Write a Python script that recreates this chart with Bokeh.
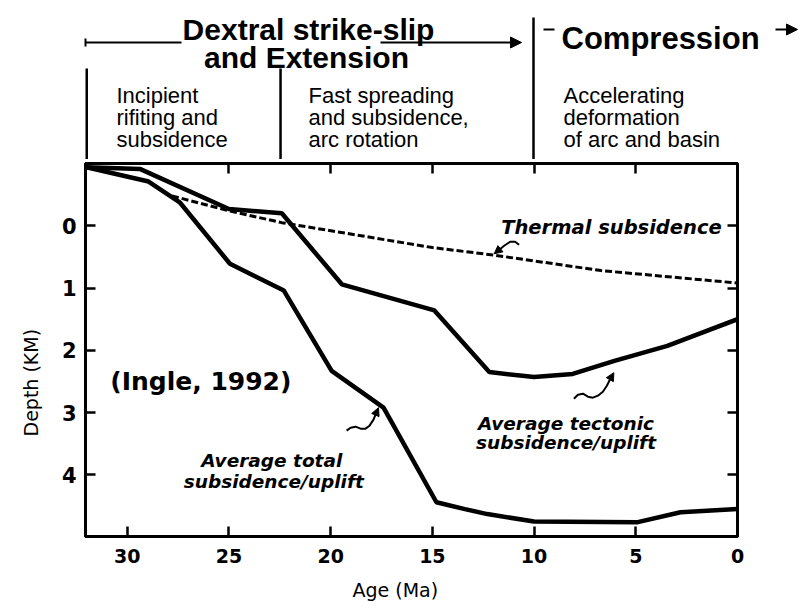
from bokeh.plotting import figure
from bokeh.models import (Range1d, LinearAxis, FixedTicker, Label, Arrow,
                          NormalHead, TeeHead, Title)
from bokeh.core.properties import value
from bokeh.embed import file_html
from bokeh.resources import INLINE

# ---------------- data ----------------
tectonic_age = [32.0, 29.35, 25.0, 22.4, 19.45, 14.9, 12.2, 10.0, 8.1, 6.05, 3.45, 0.0]
tectonic_depth = [-0.94, -0.91, -0.27, -0.20, 0.94, 1.36, 2.35, 2.43, 2.38, 2.17, 1.93, 1.50]

total_age = [32.0, 28.95, 27.4, 24.95, 22.3, 19.95, 17.4, 14.8, 13.4, 12.3, 10.0, 4.9, 2.8, 0.0]
total_depth = [-0.94, -0.71, -0.37, 0.61, 1.04, 2.33, 2.92, 4.44, 4.55, 4.63, 4.75, 4.76, 4.60, 4.55]

thermal_age = [27.8, 25.0, 22.4, 15.0, 12.0, 6.7, 0.0]
thermal_depth = [-0.48, -0.24, -0.05, 0.35, 0.47, 0.72, 0.92]

age_ticks = [30, 25, 20, 15, 10, 5, 0]
depth_ticks = [0, 1, 2, 3, 4]
phase_bounds = [31.9, 22.4, 10.0]

# ---------------- layout helpers (reference pixel -> data) ----------------
def X(xr):
    return (737.0 - xr) / 20.4

def Y(yr):
    return (yr - 225.0) / 62.3

def age_px(a):
    return 737.0 - 20.4 * a

W = 800
HEAD = 159
MAIN = 612 - HEAD

# ====================== header figure (pixel coordinates) ======================
h = figure(width=W, height=HEAD, output_backend="svg", toolbar_location=None,
           x_range=Range1d(0, W), y_range=Range1d(HEAD, 0),
           min_border=0, min_border_left=0, min_border_right=0,
           min_border_top=0, min_border_bottom=0,
           x_axis_location=None, y_axis_location=None)
h.outline_line_color = None
h.xgrid.visible = False
h.ygrid.visible = False
h.background_fill_color = "white"
h.border_fill_color = "white"

def htext(x, y, t, size, style="normal", align="left", font="Liberation Sans"):
    h.text(x=[x], y=[y], text=[t], text_align=align,
           text_baseline="alphabetic", text_font=value(font),
           text_font_size=size, text_font_style=style, text_color="black")

htext(308, 29, "Dextral strike-slip", "30px", "bold", "center")
htext(306, 57, "and Extension", "30px", "bold", "center")
htext(561, 38, "Compression", "31px", "bold", "left")

sub_rows = [95, 117, 139]
for col_x, lines in [(116, ["Incipient", "rifiting and", "subsidence"]),
                     (308, ["Fast spreading", "and subsidence,", "arc rotation"]),
                     (563, ["Accelerating", "deformation", "of arc and basin"])]:
    for r, t in zip(sub_rows, lines):
        htext(col_x, r, t, "22px")

def hseg(x0, y0, x1, y1, w=2.0, start=None, end=None):
    h.add_layout(Arrow(x_start=x0, y_start=y0, x_end=x1, y_end=y1,
                       line_color="black", line_width=w, start=start, end=end))

hseg(85, 42, 181, 42, 2, start=TeeHead(size=8, line_color="black", line_width=2))
hseg(380, 42, 521, 42, 2,
     end=NormalHead(size=11, fill_color="black", line_color="black", line_width=1))
hseg(543, 29, 554, 29, 2)
hseg(775, 29, 797, 29, 2,
     end=NormalHead(size=11, fill_color="black", line_color="black", line_width=1))

hseg(age_px(phase_bounds[0]), 68, age_px(phase_bounds[0]), HEAD, 2.5)
hseg(age_px(phase_bounds[1]), 68, age_px(phase_bounds[1]), HEAD, 2.5)
hseg(age_px(phase_bounds[2]), 17, age_px(phase_bounds[2]), HEAD, 2.5)

# ====================== main figure ======================
p = figure(width=W, height=MAIN, output_backend="svg", toolbar_location=None,
           x_range=Range1d(32.05, 0), y_range=Range1d(4.99, -1.0),
           min_border_left=83, min_border_right=63, min_border_top=4,
           min_border_bottom=76, x_axis_location=None, y_axis_location=None)
p.background_fill_color = "white"
p.border_fill_color = "white"
p.outline_line_color = "black"
p.outline_line_width = 3
p.xgrid.visible = False
p.ygrid.visible = False

def style_axis(ax, labels=True, size="19px"):
    ax.axis_line_color = "black"
    ax.axis_line_width = 3
    ax.major_tick_in = 10
    ax.major_tick_out = 0
    ax.major_tick_line_width = 2.5
    ax.minor_tick_line_color = None
    ax.major_label_text_font = "DejaVu Sans"
    ax.major_label_text_font_style = "bold"
    ax.major_label_text_font_size = size
    ax.major_label_text_color = "black"
    if not labels:
        ax.major_label_text_font_size = "0px"
        ax.major_label_text_color = None
        ax.major_label_standoff = 0

xb = LinearAxis(ticker=FixedTicker(ticks=age_ticks))
style_axis(xb, size="19px")
xb.major_label_standoff = 12
p.add_layout(xb, "below")

xt = LinearAxis(ticker=FixedTicker(ticks=age_ticks[1:-1]))
style_axis(xt, labels=False)
p.add_layout(xt, "above")

yl = LinearAxis(ticker=FixedTicker(ticks=depth_ticks))
style_axis(yl, size="21px")
yl.major_label_standoff = 9
p.add_layout(yl, "left")

yr_ = LinearAxis(ticker=FixedTicker(ticks=depth_ticks))
style_axis(yr_, labels=False)
p.add_layout(yr_, "right")

# axis titles placed as side titles with an offset along the axis
p.add_layout(Title(text="Age  (Ma)", align="left", offset=267,
                   text_font="DejaVu Sans", text_font_size="19px",
                   text_font_style="normal", text_color="black", standoff=22), "below")
p.add_layout(Title(text="Depth  (KM)", align="left", offset=100, vertical_align="bottom",
                   text_font="DejaVu Sans", text_font_size="19px",
                   text_font_style="normal", text_color="black", standoff=34), "left")

# ---------------- curves ----------------
p.line(thermal_age, thermal_depth, line_color="black", line_width=3, line_dash="7 3")
p.line(tectonic_age, tectonic_depth, line_color="black", line_width=4.5)
p.line(total_age, total_depth, line_color="black", line_width=4.5)

# ---------------- in-plot annotations ----------------
def lab(xr, yr, t, size, style="normal", align="left", font="DejaVu Sans"):
    p.add_layout(Label(x=X(xr), y=Y(yr), text=t, text_align=align,
                       text_baseline="alphabetic", text_font=font,
                       text_font_size=size, text_font_style=style, text_color="black"))

lab(500, 226.7, "Thermal subsidence", "19.5px", "bold italic", "left")
lab(565, 422.7, "Average tectonic", "18.5px", "bold italic", "center")
lab(565, 442.3, "subsidence/uplift", "18.5px", "bold italic", "center")
lab(270, 460.0, "Average total", "18.5px", "bold italic", "center")
lab(272, 480.7, "subsidence/uplift", "18.5px", "bold italic", "center")
lab(108, 381.0, "(Ingle, 1992)", "25px", "bold", "left")

def squiggle(pts, tip_from, tip_to):
    xs = [X(a) for a, b in pts]
    ys = [Y(b) for a, b in pts]
    p.line(xs, ys, line_color="black", line_width=2)
    p.add_layout(Arrow(x_start=X(tip_from[0]), y_start=Y(tip_from[1]),
                       x_end=X(tip_to[0]), y_end=Y(tip_to[1]),
                       line_color="black", line_width=2,
                       end=NormalHead(size=8, fill_color="black", line_color="black",
                                      line_width=1)))

squiggle([(518, 244), (514, 241), (509, 241), (503, 245), (497, 250)],
         (498, 249), (493, 253))
squiggle([(573, 398), (577, 394), (582, 393), (587, 396), (592, 397), (597, 395),
          (602, 391), (606, 385), (609, 379)], (609, 379), (613, 372))
squiggle([(345, 430), (349, 427), (354, 426), (359, 428), (364, 428), (368, 425),
          (372, 419), (374, 414)], (374, 414), (377, 407))

open("out.html", "w").write(file_html([h, p], INLINE))
